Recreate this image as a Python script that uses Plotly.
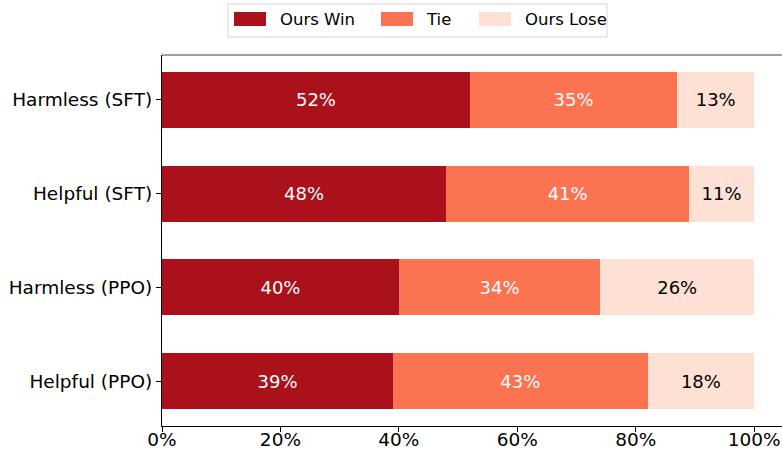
import plotly.graph_objects as go

categories = ["Helpful (PPO)", "Harmless (PPO)", "Helpful (SFT)", "Harmless (SFT)"]
win = [39, 40, 48, 52]
tie = [43, 34, 41, 35]
lose = [18, 26, 11, 13]
series_names = ["Ours Win", "Tie", "Ours Lose"]
colors = ["#AB111A", "#FC7352", "#FEE1D4"]
text_colors = ["white", "white", "black"]
tick_vals = [0, 20, 40, 60, 80, 100]
tick_text = ["0%", "20%", "40%", "60%", "80%", "100%"]

FONT = "DejaVu Sans"
W, H = 782, 452
L, R, T, B = 162, 0, 55, 26

fig = go.Figure()
for name, vals, col, tcol in zip(series_names, [win, tie, lose], colors, text_colors):
    fig.add_trace(go.Bar(
        y=categories, x=vals, orientation="h", name=name,
        marker=dict(color=col, line=dict(width=0)),
        width=0.6,
        text=[f"{v}%" for v in vals], textposition="inside",
        insidetextanchor="middle",
        textfont=dict(family=FONT, size=18, color=tcol),
        showlegend=False, hoverinfo="skip",
    ))

fig.update_layout(
    width=W, height=H, barmode="stack",
    margin=dict(l=L, r=R, t=T, b=B, autoexpand=False),
    plot_bgcolor="white", paper_bgcolor="white",
    font=dict(family=FONT, size=18, color="black"),
    xaxis=dict(range=[0, 104.7], tickvals=tick_vals, ticktext=tick_text, automargin=False,
               showgrid=False, zeroline=False, showline=True, linecolor="black",
               linewidth=1.2, ticks="outside", ticklen=5, tickcolor="black",
               ticklabelstandoff=-8,
               tickfont=dict(family=FONT, size=18.5)),
    yaxis=dict(categoryorder="array", categoryarray=categories, range=[-0.48, 3.48],
               automargin=False,
               showgrid=False, zeroline=False, showline=True, linecolor="black",
               linewidth=1.2, ticks="outside", ticklen=5, tickcolor="black",
               tickfont=dict(family=FONT, size=18.5)),
)

# top spine (gray)
fig.add_shape(type="line", xref="paper", yref="paper", x0=0, x1=1, y0=1, y1=1,
              line=dict(color="#808080", width=1.5))

# manual legend (paper coords computed from pixels)
def px_x(x):
    return (x - L) / (W - L - R)

def px_y(y):
    return (H - B - y) / (H - T - B)

fig.add_shape(type="rect", xref="paper", yref="paper",
              x0=px_x(228), x1=px_x(607), y0=px_y(37), y1=px_y(4),
              line=dict(color="#D5D5D5", width=1), fillcolor="white", layer="above")
patch_x = [234, 381, 479]
label_x = [278, 424, 523]
for name, col, px0, lx in zip(series_names, colors, patch_x, label_x):
    fig.add_shape(type="rect", xref="paper", yref="paper",
                  x0=px_x(px0), x1=px_x(px0 + 32), y0=px_y(26), y1=px_y(12),
                  line=dict(width=0), fillcolor=col, layer="above")
    fig.add_annotation(xref="paper", yref="paper", x=px_x(lx), y=px_y(19),
                       text=name, showarrow=False, xanchor="left", yanchor="middle",
                       font=dict(family=FONT, size=16.5, color="black"))

fig.write_html("out.html", config={"displayModeBar": False},
               post_script="document.body.style.margin='0';document.body.style.overflow='hidden';")
